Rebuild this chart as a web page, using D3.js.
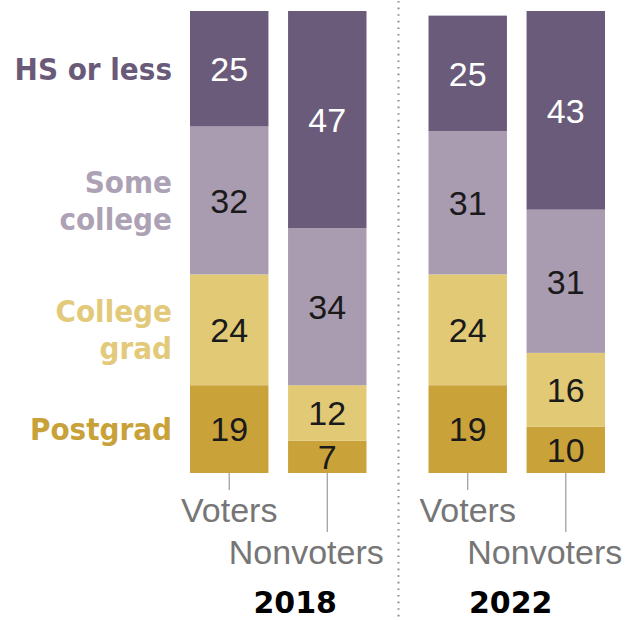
<!DOCTYPE html>
<html>
<head>
<meta charset="utf-8">
<script src="https://cdn.jsdelivr.net/npm/d3@7"></script>
<style>
  html, body { margin: 0; padding: 0; background: #fff; }
  svg { display: block; }
</style>
</head>
<body>
<svg id="chart" width="628" height="620"></svg>
<script>
const years = ["2018", "2022"];
const groups = ["Voters", "Nonvoters"];
const categories = ["Postgrad", "College grad", "Some college", "HS or less"];
const categoryLabels = [["Postgrad"], ["College", "grad"], ["Some", "college"], ["HS or less"]];
// values in order of categories (bottom to top)
const voters2018 = [19, 24, 32, 25];
const nonvoters2018 = [7, 12, 34, 47];
const voters2022 = [19, 24, 31, 25];
const nonvoters2022 = [10, 16, 31, 43];

const data = [
  { year: "2018", group: "Voters", values: voters2018 },
  { year: "2018", group: "Nonvoters", values: nonvoters2018 },
  { year: "2022", group: "Voters", values: voters2022 },
  { year: "2022", group: "Nonvoters", values: nonvoters2022 }
];

const barColors = ["#c9a33a", "#e1c976", "#a99bb0", "#6a5b7a"];
const labelColors = ["#c8a238", "#e2ca7a", "#aca1b5", "#6a5a7a"];
const valueColors = ["#1a1a1a", "#1a1a1a", "#1a1a1a", "#ffffff"];

const svg = d3.select("#chart");

const x0 = d3.scaleBand().domain(years).range([190, 605]).paddingInner(0.26).paddingOuter(0);
const x1 = d3.scaleBand().domain(groups).range([0, x0.bandwidth()]).paddingInner(0.2).paddingOuter(0);
const y = d3.scaleLinear().domain([0, 100]).range([473, 11]);

// dotted separator
const sepX = (x0("2018") + x0.bandwidth() + x0("2022")) / 2 + 1;
svg.append("line")
  .attr("x1", sepX).attr("x2", sepX)
  .attr("y1", 1).attr("y2", 620)
  .attr("stroke", "#8a8a8a")
  .attr("stroke-width", 2)
  .attr("stroke-dasharray", "1.6 5")
  .attr("stroke-linecap", "butt");

// stacked bars
data.forEach(d => {
  const bx = x0(d.year) + x1(d.group);
  let cum = 0;
  d.values.forEach((v, i) => {
    const y0 = cum, y1v = cum + v;
    cum = y1v;
    svg.append("rect")
      .attr("x", bx)
      .attr("y", y(y1v))
      .attr("width", x1.bandwidth())
      .attr("height", y(y0) - y(y1v))
      .attr("fill", barColors[i]);
    svg.append("text")
      .attr("x", bx + x1.bandwidth() / 2)
      .attr("y", (y(y0) + y(y1v)) / 2)
      .attr("dy", "0.36em")
      .attr("text-anchor", "middle")
      .attr("font-family", "Liberation Sans, Arial, sans-serif")
      .attr("font-size", 34)
      .attr("fill", valueColors[i])
      .text(v);
  });
  // tick line + group label
  const cx = bx + x1.bandwidth() / 2;
  const isVoter = d.group === "Voters";
  svg.append("line")
    .attr("x1", cx).attr("x2", cx)
    .attr("y1", y(0)).attr("y2", isVoter ? 490 : 532)
    .attr("stroke", "#9a9a9a").attr("stroke-width", 1.2);
  svg.append("text")
    .attr("x", isVoter ? cx : cx - 21)
    .attr("y", isVoter ? 522 : 564)
    .attr("text-anchor", "middle")
    .attr("font-family", "Liberation Sans, Arial, sans-serif")
    .attr("font-size", 34)
    .attr("fill", "#767676")
    .text(d.group);
});

// category labels, aligned with the 2018 voters bar
let cum = 0;
voters2018.forEach((v, i) => {
  const mid = (y(cum) + y(cum + v)) / 2;
  cum += v;
  const lines = categoryLabels[i];
  const lh = 37;
  const t = svg.append("text")
    .attr("text-anchor", "end")
    .attr("font-family", "DejaVu Sans Condensed, DejaVu Sans, sans-serif")
    .attr("font-stretch", "condensed")
    .attr("font-weight", "bold")
    .attr("font-size", 31)
    .attr("fill", labelColors[i]);
  lines.forEach((ln, j) => {
    t.append("tspan")
      .attr("x", 172)
      .attr("y", mid + (j - (lines.length - 1) / 2) * lh)
      .attr("dy", "0.36em")
      .text(ln);
  });
});

// year labels
years.forEach(yr => {
  svg.append("text")
    .attr("x", x0(yr) + x0.bandwidth() / 2 + (yr === "2018" ? 17 : -6))
    .attr("y", 613)
    .attr("text-anchor", "middle")
    .attr("font-family", "DejaVu Sans, sans-serif")
    .attr("font-weight", "bold")
    .attr("font-size", 30)
    .attr("fill", "#000")
    .text(yr);
});
</script>
</body>
</html>
